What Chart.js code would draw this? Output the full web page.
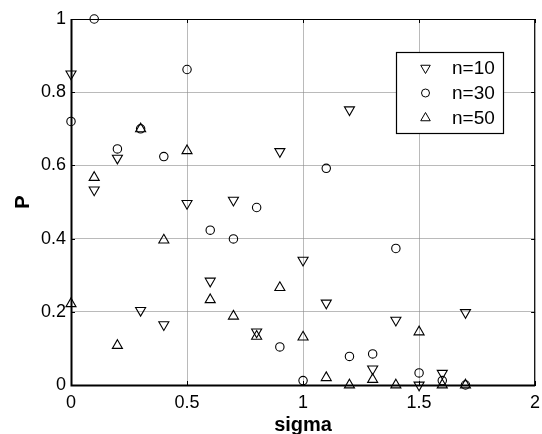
<!DOCTYPE html>
<html>
<head>
<meta charset="utf-8">
<script src="https://cdn.jsdelivr.net/npm/chart.js@4"></script>
<style>
  html, body { margin: 0; padding: 0; background: #fff; }
  #wrap { width: 542px; height: 434px; }
</style>
</head>
<body>
<div id="wrap"><canvas id="cvs_grafico"></canvas></div>
<script>
const sigma = [0, 0.1, 0.2, 0.3, 0.4, 0.5, 0.6, 0.7, 0.8, 0.9, 1.0, 1.1, 1.2, 1.3, 1.4, 1.5, 1.6, 1.7];
const p_n10 = [0.85, 0.533, 0.62, 0.204, 0.165, 0.496, 0.284, 0.505, 0.145, 0.638, 0.341, 0.224, 0.752, 0.044, 0.177, 0.0, 0.032, 0.198];
const p_n30 = [0.72, 1.0, 0.645, 0.70, 0.624, 0.862, 0.423, 0.399, 0.485, 0.104, 0.012, 0.592, 0.078, 0.085, 0.373, 0.033, 0.012, 0.0];
const p_n50 = [0.222, 0.567, 0.108, 0.70, 0.396, 0.64, 0.233, 0.188, 0.133, 0.266, 0.131, 0.02, 0.0, 0.015, 0.0, 0.145, 0.0, 0.0];
const xTicks = [0, 0.5, 1, 1.5, 2];
const yTicks = [0, 0.2, 0.4, 0.6, 0.8, 1];

function pontos(lista) {
  return sigma.map((s, i) => ({ x: s, y: lista[i] }));
}

// legenda desenhada dentro da area do grafico, como no original
const legendaInterna = {
  id: "legendaInterna",
  afterDraw(chart) {
    const ctx = chart.ctx;
    const area = chart.chartArea;
    ctx.save();

    // moldura e ticks para dentro
    ctx.strokeStyle = "#000";
    ctx.lineWidth = 1;
    ctx.strokeRect(area.left + 0.5, area.top + 0.5, area.right - area.left - 1, area.bottom - area.top);
    const sx = chart.scales.x, sy = chart.scales.y;
    xTicks.forEach((v) => {
      const px = Math.round(sx.getPixelForValue(v)) + 0.5;
      ctx.beginPath();
      ctx.moveTo(px, area.bottom); ctx.lineTo(px, area.bottom - 4);
      ctx.moveTo(px, area.top); ctx.lineTo(px, area.top + 4);
      ctx.stroke();
    });
    yTicks.forEach((v) => {
      const py = Math.round(sy.getPixelForValue(v)) + 0.5;
      ctx.beginPath();
      ctx.moveTo(area.left, py); ctx.lineTo(area.left + 4, py);
      ctx.moveTo(area.right, py); ctx.lineTo(area.right - 4, py);
      ctx.stroke();
    });
    // eixos esquerdo e inferior mais grossos
    ctx.lineWidth = 2;
    ctx.beginPath();
    ctx.moveTo(area.left + 0.5, area.top);
    ctx.lineTo(area.left + 0.5, area.bottom + 0.5);
    ctx.lineTo(area.right, area.bottom + 0.5);
    ctx.stroke();

    // caixa da legenda
    const bx = 396, by = 52, bw = 107, bh = 81;
    ctx.fillStyle = "#fff";
    ctx.fillRect(bx, by, bw, bh);
    ctx.lineWidth = 1.2;
    ctx.strokeRect(bx + 0.5, by + 0.5, bw, bh);

    const linhas = [68, 93, 118];
    ctx.lineWidth = 1;
    chart.data.datasets.forEach((ds, i) => {
      const cy = linhas[i];
      const cx = 425.5;
      ctx.beginPath();
      if (ds.pointStyle === "circle") {
        ctx.arc(cx, cy, 4, 0, Math.PI * 2);
      } else {
        const r = 5.5;
        const dir = ds.rotation === 180 ? -1 : 1;
        ctx.moveTo(cx, cy - dir * r);
        ctx.lineTo(cx + r * 0.866, cy + dir * r * 0.5);
        ctx.lineTo(cx - r * 0.866, cy + dir * r * 0.5);
        ctx.closePath();
      }
      ctx.stroke();
      ctx.fillStyle = "#000";
      ctx.font = "19px Arial";
      ctx.textBaseline = "middle";
      ctx.textAlign = "left";
      ctx.fillText(ds.label, 452, cy + 1);
    });
    ctx.restore();
  },
};

const estiloPonto = {
  borderColor: "#000",
  borderWidth: 1.1,
  backgroundColor: "rgba(0,0,0,0)",
  clip: false,
};

new Chart(document.getElementById("cvs_grafico"), {
  type: "scatter",
  data: {
    datasets: [
      { label: "n=10", data: pontos(p_n10), pointStyle: "triangle", rotation: 180, pointRadius: 5.8, ...estiloPonto },
      { label: "n=30", data: pontos(p_n30), pointStyle: "circle", pointRadius: 4.2, ...estiloPonto },
      { label: "n=50", data: pontos(p_n50), pointStyle: "triangle", rotation: 0, pointRadius: 5.8, ...estiloPonto },
    ],
  },
  options: {
    responsive: true,
    maintainAspectRatio: false,
    animation: false,
    layout: { padding: { top: 19, right: 3, left: 0, bottom: 0 } },
    plugins: {
      legend: { display: false },
      tooltip: { enabled: false },
    },
    scales: {
      x: {
        type: "linear",
        min: 0,
        max: 2,
        afterBuildTicks: (scale) => { scale.ticks = xTicks.map((v) => ({ value: v })); },
        afterFit: (scale) => { scale.height = 49; scale.paddingLeft = 0; scale.paddingRight = 0; },
        grid: { color: "rgba(140,140,140,0.6)", drawTicks: false },
        border: { color: "#000", width: 1 },
        ticks: { color: "#000", padding: 7, font: { family: "Arial", size: 18 }, callback: (v) => String(v) },
        title: {
          display: true,
          text: "sigma",
          color: "#000",
          padding: { top: 0, bottom: -3 },
          font: { family: "Arial", size: 20, weight: "bold" },
        },
      },
      y: {
        min: 0,
        max: 1,
        afterBuildTicks: (scale) => { scale.ticks = yTicks.map((v) => ({ value: v })); },
        afterFit: (scale) => { scale.width = 71; scale.paddingTop = 0; scale.paddingBottom = 0; },
        grid: { color: "rgba(140,140,140,0.6)", drawTicks: false },
        border: { color: "#000", width: 1 },
        ticks: { color: "#000", padding: 5, font: { family: "Arial", size: 18 }, callback: (v) => String(v) },
        title: {
          display: true,
          text: "P",
          color: "#000",
          padding: { top: 11, bottom: 0 },
          font: { family: "Arial", size: 20, weight: "bold" },
        },
      },
    },
  },
  plugins: [legendaInterna],
});
</script>
</body>
</html>
